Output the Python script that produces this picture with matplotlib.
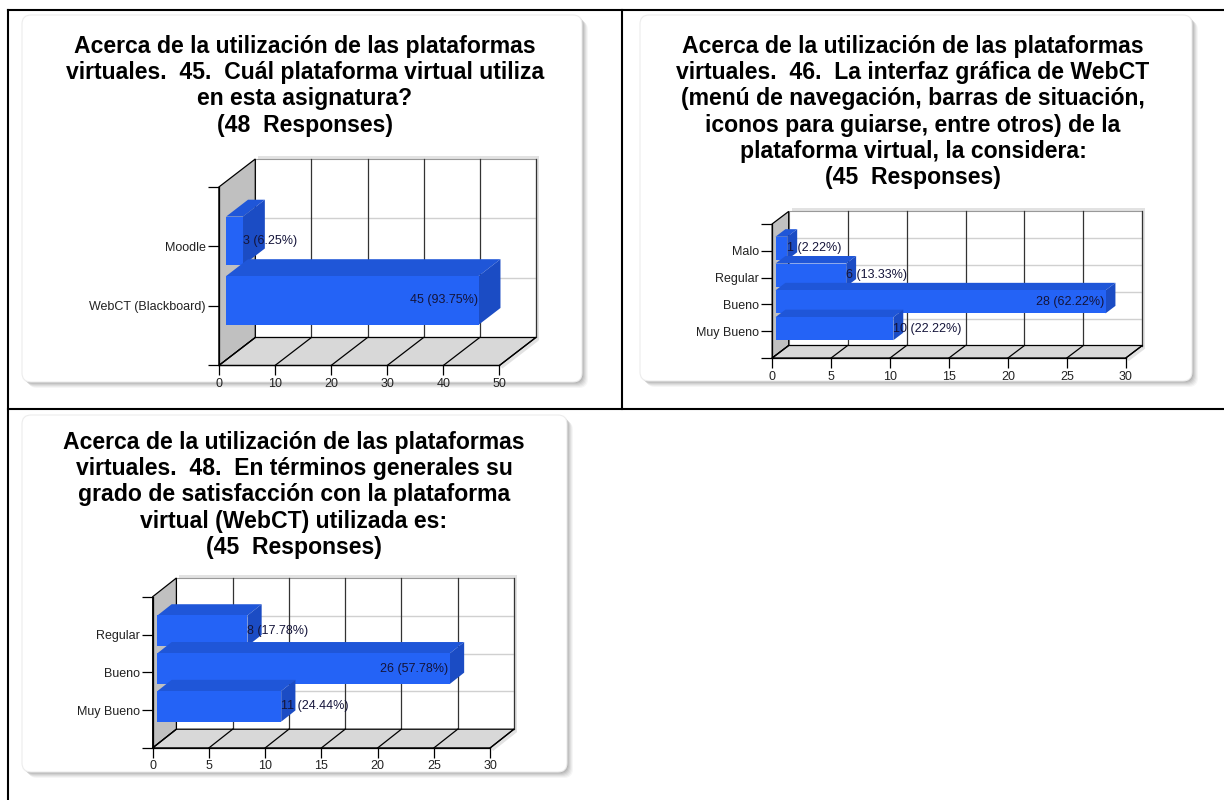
import matplotlib
matplotlib.use('Agg')
import matplotlib.pyplot as plt
from matplotlib.patches import Polygon, FancyBboxPatch, Rectangle

plt.rcParams['font.family'] = ['Liberation Sans', 'DejaVu Sans']

W, H = 1224, 800
DPI = 100

# ---------------- data ----------------
q45_title = ("Acerca de la utilización de las plataformas\n"
             "virtuales.  45.  Cuál plataforma virtual utiliza\n"
             "en esta asignatura?\n"
             "(48  Responses)")
q45_categories = ["Moodle", "WebCT (Blackboard)"]
q45_counts = [3, 45]
q45_pcts = [6.25, 93.75]
q45_xticks = [0, 10, 20, 30, 40, 50]

q46_title = ("Acerca de la utilización de las plataformas\n"
             "virtuales.  46.  La interfaz gráfica de WebCT\n"
             "(menú de navegación, barras de situación,\n"
             "iconos para guiarse, entre otros) de la\n"
             "plataforma virtual, la considera:\n"
             "(45  Responses)")
q46_categories = ["Malo", "Regular", "Bueno", "Muy Bueno"]
q46_counts = [1, 6, 28, 10]
q46_pcts = [2.22, 13.33, 62.22, 22.22]
q46_xticks = [0, 5, 10, 15, 20, 25, 30]

q48_title = ("Acerca de la utilización de las plataformas\n"
             "virtuales.  48.  En términos generales su\n"
             "grado de satisfacción con la plataforma\n"
             "virtual (WebCT) utilizada es:\n"
             "(45  Responses)")
q48_categories = ["Regular", "Bueno", "Muy Bueno"]
q48_counts = [8, 26, 11]
q48_pcts = [17.78, 57.78, 24.44]
q48_xticks = [0, 5, 10, 15, 20, 25, 30]

# ---------------- styles ----------------
FRONT = '#2463F6'
TOP = '#1F56D8'
SIDE = '#1B4CC4'
WALL = '#C0C0C0'
FLOOR = '#D8D8D8'

fig = plt.figure(figsize=(W / DPI, H / DPI), dpi=DPI)
fig.patch.set_facecolor('white')

bg = fig.add_axes([0, 0, 1, 1])
bg.set_xlim(0, W)
bg.set_ylim(H, 0)
bg.axis('off')

# table lines
lw_tab = 1.5
bg.plot([8, 8], [10, H], color='black', lw=lw_tab)
bg.plot([8, W], [10, 10], color='black', lw=lw_tab)
bg.plot([622, 622], [10, 409], color='black', lw=lw_tab)
bg.plot([8, W], [409, 409], color='black', lw=lw_tab)


def panel(x, y, w, h):
    for i, a in zip(range(6, 0, -1), [0.05, 0.07, 0.09, 0.11, 0.13, 0.15]):
        bg.add_patch(FancyBboxPatch((x + i, y + i), w, h,
                                    boxstyle='round,pad=0,rounding_size=9',
                                    fc='#606060', ec='none', alpha=a))
    bg.add_patch(FancyBboxPatch((x, y), w, h,
                                boxstyle='round,pad=0,rounding_size=9',
                                fc='white', ec='#ececec', lw=0.8))


panel(22, 15, 560, 367)
panel(640, 15, 552, 366)
panel(22, 415, 545, 357)

TITLE_FS = 16.6
bg.text(305, 35, q45_title, ha='center', va='top', fontsize=TITLE_FS,
        fontweight='bold', linespacing=1.18, multialignment='center')
bg.text(913, 35, q46_title, ha='center', va='top', fontsize=TITLE_FS,
        fontweight='bold', linespacing=1.18, multialignment='center')
bg.text(294, 431, q48_title, ha='center', va='top', fontsize=TITLE_FS,
        fontweight='bold', linespacing=1.18, multialignment='center')


def chart(rect_px, depth_px, cats, counts, pcts, xticks, bar_h=0.82):
    x0, ytop, x1, ybot = rect_px
    ax = fig.add_axes([x0 / W, 1 - ybot / H, (x1 - x0) / W, (ybot - ytop) / H])
    n = len(cats)
    xmax = xticks[-1]
    ymax = n + 1
    ax.set_xlim(0, xmax)
    ax.set_ylim(0, ymax)
    ax.patch.set_visible(False)
    ddx = depth_px[0] * xmax / (x1 - x0)
    ddy = depth_px[1] * ymax / (ybot - ytop)
    sx = 3 * xmax / (x1 - x0)
    sy = 3 * ymax / (ybot - ytop)

    # shadow of back wall
    ax.add_patch(Polygon([(ddx + sx, ddy - sy), (xmax + ddx + sx, ddy - sy),
                          (xmax + ddx + sx, ymax + ddy + sy), (ddx + sx, ymax + ddy + sy)],
                         closed=True, fc='#e2e2e2', ec='none', clip_on=False, zorder=0.5))
    ax.add_patch(Polygon([(xmax, 0), (xmax + ddx, ddy), (xmax + ddx + sx, ddy - sy),
                          (xmax + sx, -sy)],
                         closed=True, fc='#e2e2e2', ec='none', clip_on=False, zorder=0.5))
    # back wall
    ax.add_patch(Rectangle((ddx, ddy), xmax, ymax, fc='white', ec='#999999', lw=0.8,
                           clip_on=False, zorder=0.6))
    for yv in range(1, n + 1):
        ax.plot([ddx, xmax + ddx], [yv + ddy, yv + ddy], color='#d0d0d0', lw=1,
                clip_on=False, zorder=0.7)
    for t in xticks[1:]:
        ax.plot([t + ddx, t + ddx], [ddy, ymax + ddy], color='#333333', lw=0.9,
                clip_on=False, zorder=0.8)
    # left wall
    ax.add_patch(Polygon([(0, 0), (ddx, ddy), (ddx, ymax + ddy), (0, ymax)], closed=True,
                         fc=WALL, ec='black', lw=0.9, clip_on=False, zorder=0.9))
    # floor
    ax.add_patch(Polygon([(0, 0), (xmax, 0), (xmax + ddx, ddy), (ddx, ddy)], closed=True,
                         fc=FLOOR, ec='black', lw=0.9, clip_on=False, zorder=0.9))
    for t in xticks:
        ax.plot([t, t + ddx], [0, ddy], color='black', lw=0.9, clip_on=False, zorder=1)

    fx, fy = 0.2 * ddx, 0.2 * ddy
    bx, by = 0.6 * ddx, 0.6 * ddy
    for i, (c, v, p) in enumerate(zip(cats, counts, pcts)):
        yc = n - i
        z = 3 + i
        y0 = yc - bar_h / 2 + fy
        y1 = yc + bar_h / 2 + fy
        xl = fx
        xr = v + fx
        ax.add_patch(Polygon([(xl, y1), (xr, y1), (xr + bx, y1 + by), (xl + bx, y1 + by)],
                             closed=True, fc=TOP, ec='none', clip_on=False, zorder=z))
        ax.add_patch(Polygon([(xr, y0), (xr + bx, y0 + by), (xr + bx, y1 + by), (xr, y1)],
                             closed=True, fc=SIDE, ec='none', clip_on=False, zorder=z))
        ax.add_patch(Rectangle((xl, y0), v, bar_h, fc=FRONT, ec='none',
                               clip_on=False, zorder=z))
        lab = f"{v} ({p:.2f}%)"
        if v / xmax > 0.75:
            ax.text(xr - 0.004 * xmax, (y0 + y1) / 2, lab, ha='right', va='center',
                    fontsize=9, color='#14143a', zorder=20, clip_on=False)
        else:
            ax.text(xr, (y0 + y1) / 2, lab, ha='left', va='center',
                    fontsize=9, color='#14143a', zorder=20, clip_on=False)

    for s in ['top', 'right']:
        ax.spines[s].set_visible(False)
    for s in ['left', 'bottom']:
        ax.spines[s].set_color('black')
        ax.spines[s].set_linewidth(0.9)
        ax.spines[s].set_zorder(2)
    ax.set_yticks(list(range(1, n + 1)))
    ax.set_yticklabels(list(reversed(cats)))
    ax.set_yticks([0, ymax], minor=True)
    ax.set_xticks(xticks)
    ax.set_xticklabels([str(t) for t in xticks])
    ax.tick_params(axis='y', which='both', length=8, width=0.9, direction='out',
                   pad=1.5, labelsize=9, labelcolor='#222222')
    ax.tick_params(axis='x', which='both', length=7, width=0.9, direction='out',
                   pad=2, labelsize=9, labelcolor='#222222')
    return ax


chart((218.9, 187.0, 499.4, 365.5), (36.4, 28.0), q45_categories, q45_counts, q45_pcts,
      q45_xticks, bar_h=0.82)
chart((772.2, 223.9, 1125.8, 358.0), (16.5, 12.5), q46_categories, q46_counts, q46_pcts,
      q46_xticks, bar_h=0.86)
chart((152.7, 596.7, 490.2, 747.9), (23.7, 18.7), q48_categories, q48_counts, q48_pcts,
      q48_xticks, bar_h=0.81)

fig.savefig('out.png', dpi=DPI, facecolor='white')
